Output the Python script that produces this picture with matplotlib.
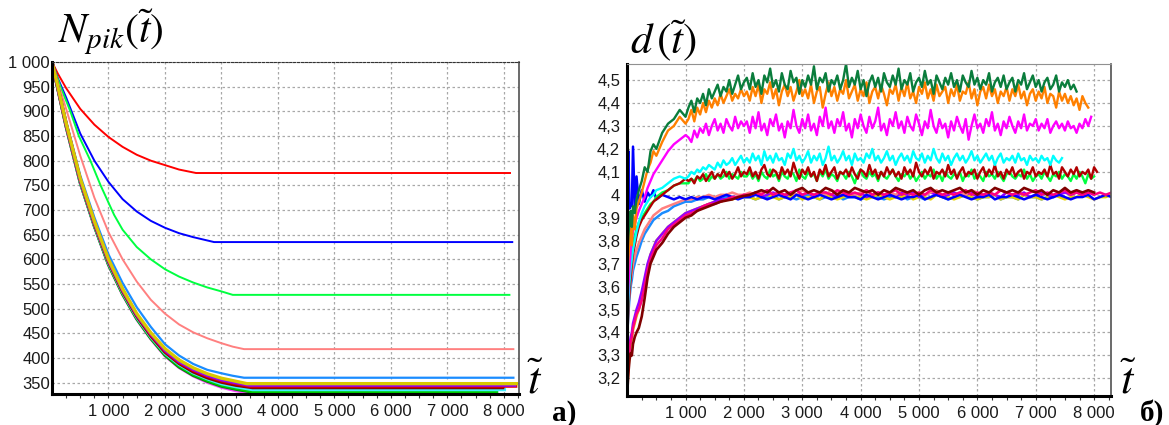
import numpy as np
import matplotlib
matplotlib.use("Agg")
import matplotlib.pyplot as plt

plt.rcParams['font.family'] = ['Liberation Sans', 'DejaVu Sans']
plt.rcParams['mathtext.fontset'] = 'stix'

# ---------------- panel a) : N_pik(t) ----------------
t_red = [0, 100, 250, 500, 750, 1000, 1250, 1500, 1750, 2000, 2250, 2550, 8110]
n_red = [1000, 977, 947, 905, 873, 848, 828, 812, 800, 791, 782, 775, 775]

t_blue = [0, 100, 250, 500, 750, 1000, 1250, 1500, 1750, 2000, 2250, 2500, 2870, 8150]
n_blue = [1000, 968, 928, 855, 800, 757, 722, 697, 678, 664, 653, 645, 635, 635]

t_green = [0, 150, 325, 475, 680, 860, 1100, 1250, 1500, 1750, 2000, 2250, 2500, 2750, 3000, 3200, 8100]
n_green = [1000, 950, 900, 850, 800, 750, 690, 660, 625, 600, 580, 565, 553, 543, 535, 528, 528]

t_pink = [0, 100, 250, 500, 750, 1000, 1250, 1500, 1750, 2000, 2250, 2500, 2750, 3000, 3200, 3400, 8170]
n_pink = [1000, 960, 905, 810, 725, 655, 600, 555, 518, 490, 468, 452, 440, 430, 423, 418, 418]

t_dodger = [0, 100, 250, 500, 750, 1000, 1250, 1500, 1750, 2000, 2250, 2500, 2750, 3000, 3200, 3400, 8170]
n_dodger = [1000, 952, 880, 770, 685, 610, 552, 503, 463, 428, 405, 388, 376, 369, 364, 360, 360]

t_c = [0, 100, 250, 500, 750, 1000, 1250, 1500, 1750, 2000, 2250, 2500, 2750, 3000, 3250]
n_yellow = [1000, 952, 876, 764, 677, 600, 540, 490, 451, 419, 396, 380, 368, 359, 353, 348, 348]
n_purple = [1000, 951, 875, 762, 675, 598, 538, 488, 449, 416, 393, 377, 365, 356, 350, 345, 345]
n_red2 = [1000, 950, 874, 761, 674, 597, 537, 487, 447, 414, 391, 375, 363, 354, 348, 343, 343]
n_dred = [1000, 950, 873, 760, 672, 595, 535, 485, 445, 412, 389, 372, 360, 351, 345, 340, 340]
n_cyan = [1000, 949, 872, 758, 670, 593, 533, 483, 443, 410, 387, 370, 358, 348, 342, 336, 336]
n_grn2 = [1000, 948, 871, 757, 669, 591, 531, 481, 441, 408, 384, 367, 355, 345, 339, 332, 332]
n_dgrn = [1000, 948, 870, 756, 668, 590, 530, 480, 440, 406, 382, 365, 353, 343, 337, 330, 330]
n_mag = [1000, 947, 869, 755, 667, 589, 529, 479, 439, 405, 381, 364, 351, 341, 334, 328, 328]
# plateau start / end for the cluster curves
c_tail = {'yellow': (3450, 8255), 'purple': (3500, 8220), 'red2': (3500, 8240),
          'dred': (3550, 8010), 'cyan': (3550, 8040), 'grn2': (3550, 7900),
          'dgrn': (3600, 7900), 'mag': (3600, 7600)}

a_yticks = [350, 400, 450, 500, 550, 600, 650, 700, 750, 800, 850, 900, 950, 1000]
a_ylabels = ['350', '400', '450', '500', '550', '600', '650', '700', '750', '800',
             '850', '900', '950', '1 000']
x_ticks = [1000, 2000, 3000, 4000, 5000, 6000, 7000, 8000]
x_labels = ['1 000', '2 000', '3 000', '4 000', '5 000', '6 000', '7 000', '8 000']

# ---------------- panel б) : d(t) ----------------
t_early = [0, 20, 40, 60, 80, 100, 130, 160, 200, 250, 300, 350, 400, 450, 500,
           600, 700, 800, 900, 1000]
t_d = np.concatenate([t_early, np.arange(1100, 8400, 100)])      # cluster runs
t_f = np.concatenate([t_early, np.arange(1050, 8400, 50)])       # upper noisy runs

d_dkgreen = [3.72, 3.82, 3.88, 3.93, 3.86, 3.95, 3.92, 3.98, 4.02, 4.06, 4.12, 4.10, 4.19, 4.22, 4.20, 4.27, 4.31, 4.33, 4.37, 4.34,
             4.38, 4.41, 4.36, 4.42, 4.40, 4.44, 4.39, 4.46, 4.42, 4.45, 4.48, 4.43, 4.47, 4.45, 4.50, 4.44, 4.48, 4.52, 4.46, 4.49,
             4.51, 4.46, 4.53, 4.47, 4.50, 4.44, 4.52, 4.49, 4.55, 4.47,
             4.50, 4.45, 4.53, 4.48, 4.46, 4.54, 4.49, 4.51, 4.44, 4.50,
             4.47, 4.52, 4.48, 4.56, 4.46, 4.51, 4.49, 4.53, 4.45, 4.50,
             4.48, 4.52, 4.46, 4.50, 4.57, 4.47, 4.51, 4.48, 4.54, 4.46,
             4.50, 4.43, 4.49, 4.52, 4.47, 4.51, 4.45, 4.53, 4.49, 4.47,
             4.52, 4.48, 4.55, 4.46, 4.50, 4.48, 4.53, 4.45, 4.49, 4.51,
             4.47, 4.54, 4.48, 4.50, 4.44, 4.52, 4.49, 4.46, 4.51, 4.48,
             4.53, 4.47, 4.50, 4.45, 4.52, 4.49, 4.47, 4.54, 4.48, 4.51,
             4.46, 4.50, 4.48, 4.53, 4.45, 4.49, 4.51, 4.47, 4.52, 4.46,
             4.49, 4.51, 4.45, 4.50, 4.48, 4.53, 4.46, 4.49, 4.52, 4.47,
             4.50, 4.45, 4.49, 4.51, 4.46, 4.48, 4.52, 4.45, 4.49, 4.47,
             4.50, 4.46, 4.48, 4.45]
d_orange = [3.58, 3.72, 3.80, 3.87, 3.78, 3.91, 3.85, 3.94, 3.97, 4.01, 4.06, 4.11, 4.14, 4.19, 4.17, 4.23, 4.28, 4.30, 4.34, 4.31,
            4.33, 4.37, 4.32, 4.38, 4.35, 4.40, 4.36, 4.41, 4.38, 4.42, 4.39, 4.44, 4.40, 4.43, 4.46, 4.41, 4.44, 4.42, 4.46, 4.43,
            4.45, 4.41, 4.47, 4.43, 4.48, 4.40, 4.46, 4.44, 4.49, 4.42,
            4.46, 4.39, 4.45, 4.48, 4.43, 4.47, 4.41, 4.45, 4.50, 4.43,
            4.46, 4.42, 4.48, 4.40, 4.45, 4.47, 4.38, 4.44, 4.49, 4.43,
            4.47, 4.41, 4.46, 4.44, 4.50, 4.42, 4.45, 4.48, 4.41, 4.46,
            4.43, 4.49, 4.40, 4.45, 4.47, 4.42, 4.48, 4.44, 4.39, 4.46,
            4.44, 4.48, 4.41, 4.47, 4.43, 4.49, 4.42, 4.45, 4.40, 4.47,
            4.44, 4.49, 4.42, 4.46, 4.41, 4.48, 4.43, 4.45, 4.47, 4.40,
            4.46, 4.43, 4.48, 4.41, 4.45, 4.44, 4.49, 4.42, 4.46, 4.39,
            4.45, 4.47, 4.42, 4.48, 4.43, 4.46, 4.40, 4.45, 4.43, 4.47,
            4.41, 4.46, 4.43, 4.48, 4.42, 4.45, 4.39, 4.44, 4.46, 4.41,
            4.45, 4.42, 4.47, 4.40, 4.44, 4.43, 4.38, 4.45, 4.41, 4.44,
            4.40, 4.43, 4.39, 4.42, 4.37, 4.43, 4.40, 4.38]
d_magenta = [3.45, 3.60, 3.68, 3.76, 3.80, 3.84, 3.87, 3.90, 3.93, 3.96, 3.99, 4.03, 4.06, 4.09, 4.11, 4.15, 4.19, 4.22, 4.24, 4.26,
             4.25, 4.23, 4.28, 4.25, 4.29, 4.27, 4.31, 4.26, 4.30, 4.33, 4.28, 4.31, 4.27, 4.33, 4.30, 4.28, 4.34, 4.29, 4.32, 4.30,
             4.32, 4.27, 4.34, 4.29, 4.36, 4.28, 4.31, 4.26, 4.33, 4.30,
             4.35, 4.28, 4.31, 4.25, 4.32, 4.29, 4.37, 4.30, 4.27, 4.33,
             4.29, 4.35, 4.28, 4.31, 4.26, 4.34, 4.30, 4.38, 4.29, 4.32,
             4.27, 4.33, 4.30, 4.36, 4.28, 4.31, 4.25, 4.33, 4.29, 4.35,
             4.30, 4.27, 4.34, 4.29, 4.32, 4.38, 4.28, 4.31, 4.26, 4.33,
             4.30, 4.36, 4.29, 4.32, 4.27, 4.34, 4.30, 4.28, 4.35, 4.31,
             4.26, 4.32, 4.29, 4.37, 4.30, 4.27, 4.33, 4.29, 4.31, 4.25,
             4.32, 4.28, 4.34, 4.30, 4.27, 4.33, 4.24, 4.30, 4.35, 4.29,
             4.31, 4.27, 4.33, 4.30, 4.36, 4.28, 4.31, 4.26, 4.32, 4.29,
             4.34, 4.30, 4.27, 4.32, 4.29, 4.35, 4.28, 4.31, 4.30, 4.33,
             4.28, 4.31, 4.29, 4.33, 4.27, 4.30, 4.32, 4.29, 4.31, 4.28,
             4.32, 4.29, 4.30, 4.27, 4.31, 4.29, 4.33, 4.30, 4.34]
d_cyan = [3.40, 3.54, 3.62, 3.68, 3.72, 3.76, 3.80, 3.84, 3.88, 3.92, 3.95, 3.97, 3.99, 4.00, 4.02, 4.03, 4.05, 4.07, 4.08, 4.07,
          4.08, 4.10, 4.09, 4.11, 4.10, 4.12, 4.11, 4.13, 4.12, 4.11, 4.14, 4.12, 4.15, 4.13, 4.14, 4.16, 4.13, 4.15, 4.17, 4.14,
          4.16, 4.14, 4.18, 4.15, 4.17, 4.13, 4.19, 4.15, 4.17, 4.14,
          4.18, 4.15, 4.16, 4.13, 4.18, 4.16, 4.20, 4.15, 4.17, 4.14,
          4.16, 4.19, 4.14, 4.17, 4.15, 4.18, 4.13, 4.16, 4.21, 4.15,
          4.17, 4.14, 4.16, 4.19, 4.15, 4.17, 4.13, 4.18, 4.15, 4.16,
          4.14, 4.18, 4.16, 4.20, 4.15, 4.17, 4.14, 4.16, 4.19, 4.15,
          4.17, 4.13, 4.16, 4.18, 4.15, 4.17, 4.14, 4.19, 4.16, 4.15,
          4.18, 4.14, 4.17, 4.15, 4.20, 4.16, 4.14, 4.18, 4.15, 4.17,
          4.13, 4.16, 4.18, 4.15, 4.17, 4.14, 4.16, 4.19, 4.15, 4.17,
          4.14, 4.16, 4.18, 4.15, 4.17, 4.13, 4.16, 4.18, 4.14, 4.16,
          4.15, 4.17, 4.14, 4.18, 4.15, 4.16, 4.13, 4.17, 4.15, 4.16,
          4.14, 4.17, 4.15, 4.16, 4.13, 4.17, 4.15, 4.14, 4.16]
d_darkred = [3.35, 3.50, 3.58, 3.64, 3.70, 3.74, 3.78, 3.82, 3.86, 3.89, 3.91, 3.93, 3.95, 3.97, 3.98, 4.00, 4.02, 4.04, 4.05, 4.07,
             4.06, 4.07, 4.05, 4.08, 4.07, 4.09, 4.06, 4.08, 4.10, 4.07, 4.09, 4.08, 4.11, 4.08, 4.10, 4.07, 4.09, 4.12, 4.08, 4.10,
             4.09, 4.12, 4.08, 4.10, 4.07, 4.11, 4.13, 4.09, 4.08, 4.11,
             4.10, 4.07, 4.12, 4.09, 4.11, 4.08, 4.14, 4.10, 4.07, 4.11,
             4.09, 4.12, 4.08, 4.10, 4.06, 4.11, 4.09, 4.13, 4.08, 4.10,
             4.12, 4.07, 4.10, 4.09, 4.11, 4.08, 4.12, 4.09, 4.07, 4.11,
             4.10, 4.08, 4.13, 4.09, 4.11, 4.07, 4.10, 4.08, 4.12, 4.09,
             4.11, 4.08, 4.10, 4.07, 4.12, 4.09, 4.11, 4.08, 4.14, 4.10,
             4.08, 4.11, 4.09, 4.12, 4.07, 4.10, 4.09, 4.11, 4.08, 4.13,
             4.09, 4.11, 4.07, 4.10, 4.12, 4.08, 4.10, 4.09, 4.11, 4.07,
             4.10, 4.12, 4.08, 4.11, 4.09, 4.13, 4.08, 4.10, 4.07, 4.11,
             4.09, 4.12, 4.08, 4.10, 4.11, 4.07, 4.10, 4.09, 4.12, 4.08,
             4.10, 4.09, 4.11, 4.08, 4.13, 4.09, 4.10, 4.07, 4.12, 4.10,
             4.08, 4.11, 4.09, 4.12, 4.08, 4.10, 4.09, 4.11, 4.07, 4.12,
             4.10]
d_green = [3.50, 3.62, 3.69, 3.74, 3.77, 3.80, 3.82, 3.85, 3.88, 3.90, 3.92, 3.94, 3.96, 3.97, 3.99, 4.01, 4.02, 4.04, 4.05, 4.05,
           4.05, 4.07, 4.06, 4.08, 4.06, 4.07, 4.09, 4.06, 4.08, 4.07, 4.09, 4.07, 4.08, 4.10, 4.07, 4.09, 4.08, 4.07, 4.10, 4.08,
           4.08, 4.10, 4.07, 4.09, 4.06, 4.10, 4.08, 4.07, 4.11, 4.08,
           4.09, 4.06, 4.10, 4.08, 4.07, 4.10, 4.09, 4.06, 4.11, 4.08,
           4.07, 4.10, 4.08, 4.09, 4.06, 4.10, 4.08, 4.11, 4.07, 4.09,
           4.08, 4.06, 4.10, 4.09, 4.07, 4.10, 4.08, 4.05, 4.09, 4.11,
           4.08, 4.07, 4.10, 4.08, 4.09, 4.06, 4.10, 4.08, 4.07, 4.09,
           4.11, 4.08, 4.06, 4.09, 4.08, 4.10, 4.07, 4.09, 4.06, 4.08,
           4.10, 4.07, 4.09, 4.08, 4.11, 4.07, 4.09, 4.06, 4.10, 4.08,
           4.07, 4.09, 4.08, 4.10, 4.06, 4.09, 4.08, 4.11, 4.07, 4.09,
           4.08, 4.06, 4.10, 4.08, 4.09, 4.07, 4.10, 4.08, 4.06, 4.09,
           4.10, 4.08, 4.07, 4.09, 4.08, 4.11, 4.07, 4.09, 4.06, 4.08,
           4.09, 4.07, 4.10, 4.08, 4.06, 4.09, 4.08, 4.10, 4.07, 4.09,
           4.08, 4.06, 4.09, 4.07, 4.10, 4.08, 4.05, 4.09, 4.07, 4.08]
d_maroon = [3.13, 3.22, 3.28, 3.31, 3.30, 3.35, 3.38, 3.40, 3.42, 3.47, 3.55, 3.64, 3.70, 3.73, 3.76, 3.79, 3.83, 3.86, 3.88, 3.90,
            3.91, 3.93, 3.94, 3.95, 3.96, 3.97, 3.975, 3.98, 3.99, 3.995,
            4.00, 4.01, 4.02, 4.01, 4.03, 4.01, 4.02, 4.00, 4.02, 4.03,
            4.01, 4.02, 4.01, 4.03, 4.02, 4.00, 4.02, 4.01, 4.03, 4.02,
            4.01, 4.02, 4.00, 4.02, 4.01, 4.03, 4.02, 4.01, 4.02, 4.00,
            4.02, 4.03, 4.01, 4.02, 4.01, 4.02, 4.03, 4.01, 4.02, 4.00,
            4.02, 4.01, 4.03, 4.02, 4.01, 4.02, 4.01, 4.03, 4.02, 4.01,
            4.02, 4.00, 4.02, 4.01, 4.03, 4.01, 4.02, 4.01, 4.02, 4.01]
d_pink = [3.15, 3.25, 3.32, 3.36, 3.38, 3.42, 3.45, 3.48, 3.50, 3.54, 3.60, 3.67, 3.72, 3.75, 3.78, 3.81, 3.85, 3.87, 3.89, 3.91,
          3.92, 3.93, 3.95, 3.96, 3.96, 3.97, 3.98, 3.99, 3.99, 4.00,
          4.00, 4.01, 4.00, 4.02, 4.00, 4.01, 4.00, 4.01, 4.02, 4.00,
          4.01, 4.00, 4.01, 4.01, 4.00, 4.02, 4.01, 4.00, 4.01, 4.00,
          4.02, 4.00, 4.01, 4.00, 4.01, 4.02, 4.00, 4.01, 4.00, 4.01,
          4.00, 4.02, 4.01, 4.00, 4.01, 4.00, 4.01, 4.02, 4.00, 4.01,
          4.00, 4.01, 4.00, 4.02, 4.01, 4.00, 4.01, 4.00, 4.01, 4.02,
          4.00, 4.01, 4.00, 4.01, 4.02, 4.00, 4.01, 4.00, 4.01, 4.00,
          4.01, 4.00, 4.01]
d_blue = [3.93, 4.19, 3.94, 3.96, 3.95, 4.21, 3.95, 4.08, 3.96, 4.02, 3.97, 4.01, 3.99, 4.02, 3.98, 4.00, 3.99, 3.98, 3.99, 3.98,
          3.99, 3.98, 3.99, 3.99, 3.98, 3.99, 4.00, 3.99, 3.98, 3.99,
          3.99, 4.00, 3.99, 3.98, 3.99, 4.00, 3.99, 3.98, 4.00, 3.99,
          3.98, 3.99, 4.00, 3.99, 3.98, 3.99, 4.00, 3.99, 3.99, 3.98,
          4.00, 3.99, 3.98, 3.99, 4.00, 3.99, 3.98, 3.99, 3.99, 4.00,
          3.98, 3.99, 4.00, 3.99, 3.98, 3.99, 4.00, 3.99, 3.98, 3.99,
          3.99, 4.00, 3.98, 3.99, 3.99, 4.00, 3.99, 3.98, 3.99, 4.00,
          3.99, 3.98, 3.99, 4.00, 3.99, 3.98, 3.99, 3.99, 4.00, 3.98,
          3.99, 4.00, 3.99]
d_yellow = [3.14, 3.24, 3.30, 3.35, 3.37, 3.41, 3.44, 3.47, 3.50, 3.55, 3.62, 3.69, 3.74, 3.77, 3.80, 3.83, 3.86, 3.88, 3.90, 3.92,
            3.93, 3.94, 3.95, 3.96, 3.97, 3.97, 3.98, 3.98, 3.99, 3.99,
            3.99, 3.98, 3.99, 4.00, 3.99, 3.98, 3.99, 3.99, 4.00, 3.98,
            3.99, 3.99, 3.98, 4.00, 3.99, 3.98, 3.99, 4.00, 3.99, 3.99,
            3.98, 3.99, 4.00, 3.99, 3.98, 3.99, 3.99, 4.00, 3.98, 3.99,
            3.99, 3.98, 4.00, 3.99, 3.99, 3.98, 3.99, 4.00, 3.99, 3.98,
            3.99, 3.99, 4.00, 3.98, 3.99, 3.99, 3.98, 4.00, 3.99, 3.99,
            3.98, 3.99, 4.00, 3.99, 3.98, 3.99, 3.99, 4.00, 3.99, 3.98,
            3.99, 3.99, 4.00]
d_purple = [3.18, 3.28, 3.34, 3.38, 3.40, 3.44, 3.47, 3.50, 3.53, 3.58, 3.64, 3.70, 3.74, 3.77, 3.80, 3.83, 3.86, 3.88, 3.90, 3.92,
            3.93, 3.94, 3.95, 3.96, 3.97, 3.98, 3.98, 3.99, 3.99, 4.00,
            4.00, 4.01, 3.99, 4.00, 4.01, 4.00, 3.99, 4.01, 4.00, 4.00,
            4.01, 3.99, 4.00, 4.01, 4.00, 3.99, 4.00, 4.01, 4.00, 4.01,
            3.99, 4.00, 4.01, 4.00, 4.00, 3.99, 4.01, 4.00, 4.01, 3.99,
            4.00, 4.01, 4.00, 3.99, 4.00, 4.01, 4.00, 4.00, 4.01, 3.99,
            4.00, 4.01, 4.00, 3.99, 4.01, 4.00, 4.00, 4.01, 3.99, 4.00,
            4.01, 4.00, 3.99, 4.00, 4.01, 4.00, 4.01, 4.00]
d_dodger = [3.38, 3.48, 3.55, 3.60, 3.63, 3.67, 3.70, 3.73, 3.76, 3.80, 3.83, 3.85, 3.87, 3.89, 3.90, 3.92, 3.93, 3.95, 3.96, 3.97,
            3.97, 3.98, 3.98, 3.99, 3.99, 3.98, 3.99, 3.99, 3.99, 3.99,
            3.99, 3.98, 3.99, 3.99, 4.00, 3.98, 3.99, 3.99, 3.98, 3.99,
            4.00, 3.99, 3.98, 3.99, 3.99, 4.00, 3.98, 3.99, 3.99, 3.98,
            3.99, 4.00, 3.99, 3.98, 3.99, 3.99, 4.00, 3.98, 3.99, 3.99,
            3.98, 3.99, 4.00, 3.99, 3.98, 3.99, 3.99, 4.00, 3.99, 3.98,
            3.99, 3.99, 4.00, 3.98, 3.99, 3.99, 3.98, 4.00, 3.99, 3.99,
            3.98, 3.99, 3.99]
d_salmon = [3.42, 3.52, 3.58, 3.63, 3.66, 3.70, 3.73, 3.76, 3.79, 3.82, 3.85, 3.87, 3.89, 3.91, 3.92, 3.94, 3.95, 3.96, 3.97, 3.98,
            3.98, 3.99, 3.99, 4.00, 3.99, 4.00, 4.00, 4.01, 4.00, 4.00,
            4.01, 4.00, 4.01, 4.02, 4.00, 4.01, 4.00, 4.01, 4.00, 4.02,
            4.01, 4.00, 4.01, 4.00, 4.02, 4.01, 4.00, 4.01, 4.00, 4.01,
            4.02, 4.00, 4.01, 4.00, 4.01, 4.00, 4.02, 4.01, 4.00, 4.01,
            4.00, 4.01, 4.02, 4.00, 4.01, 4.00, 4.01, 4.00, 4.02, 4.01,
            4.00, 4.01, 4.00, 4.02, 4.01, 4.00, 4.01, 4.00]

b_yticks = [3.2, 3.3, 3.4, 3.5, 3.6, 3.7, 3.8, 3.9, 4.0, 4.1, 4.2, 4.3, 4.4, 4.5]
b_ylabels = ['3,2', '3,3', '3,4', '3,5', '3,6', '3,7', '3,8', '3,9', '4', '4,1',
             '4,2', '4,3', '4,4', '4,5']

fig = plt.figure(figsize=(11.69, 4.25), dpi=100)
ax1 = fig.add_axes([0.0445, 0.0729, 0.3995, 0.7812])
ax2 = fig.add_axes([0.5365, 0.0682, 0.4139, 0.7812])


def style(ax, pad_y):
    ax.grid(True, which='major', color='#a8a8a8', linestyle=(0, (2, 2)), linewidth=0.9)
    ax.set_axisbelow(True)
    ax.set_xticks(x_ticks)
    ax.set_xticklabels(x_labels)
    ax.set_xticks(np.arange(250, 8300, 250), minor=True)
    ax.tick_params(axis='x', which='both', direction='out', length=3, width=0.8,
                   color='#333333', labelsize=12, pad=4, labelcolor='#1a1a1a')
    ax.tick_params(axis='y', length=0, labelsize=12, pad=pad_y, labelcolor='#1a1a1a')
    ax.spines['left'].set_linewidth(2.2)
    ax.spines['left'].set_color('black')
    ax.spines['bottom'].set_linewidth(2.2)
    ax.spines['bottom'].set_color('black')
    ax.spines['right'].set_color('#505050')
    ax.spines['right'].set_linewidth(1.2)


# ---- panel a
ax1.plot(t_red, n_red, color='#ff0000', lw=1.4)
ax1.plot(t_blue, n_blue, color='#0000ff', lw=1.4)
ax1.plot(t_green, n_green, color='#00ff40', lw=1.4)
ax1.plot(t_pink, n_pink, color='#ff8080', lw=1.4)
ax1.plot(t_dodger, n_dodger, color='#1a8cff', lw=1.6)
cluster = [('mag', n_mag, '#ff40ff'), ('dgrn', n_dgrn, '#008a00'), ('grn2', n_grn2, '#00cc00'),
           ('cyan', n_cyan, '#40f0ff'), ('dred', n_dred, '#8b0000'), ('red2', n_red2, '#e00000'),
           ('purple', n_purple, '#9000ff'), ('yellow', n_yellow, '#d8c800')]
for key, vals, col in cluster:
    ts, te = c_tail[key]
    ax1.plot(t_c + [ts, te], vals, color=col, lw=2.4, solid_capstyle='butt')

style(ax1, 1.5)
ax1.set_xlim(0, 8270)
ax1.set_ylim(327, 1000)
ax1.set_yticks(a_yticks)
ax1.set_yticklabels(a_ylabels)
ax1.spines['top'].set_linestyle((0, (2, 1.5)))
ax1.spines['top'].set_color('#333333')

# ---- panel б
cluster_b = [(d_dodger, '#1a8cff'), (d_yellow, '#e6d200'), (d_purple, '#9400ff'),
             (d_salmon, '#ff8080'), (d_blue, '#0000ff'), (d_pink, '#ff0080')]
for vals, col in cluster_b:
    ax2.plot(t_d[:len(vals)], vals, color=col, lw=1.8)
upper_b = [(d_green, '#00ff40'), (d_darkred, '#b00000'), (d_cyan, '#00ffff'),
           (d_magenta, '#ff00ff'), (d_orange, '#ff8000'), (d_dkgreen, '#0a7d3c')]
for vals, col in upper_b:
    ax2.plot(t_f[:len(vals)], vals, color=col, lw=1.7)
ax2.plot(t_d[:len(d_maroon)], d_maroon, color='#800000', lw=1.9)

style(ax2, 5)
ax2.set_xlim(0, 8290)
ax2.set_ylim(3.123, 4.57)
ax2.set_yticks(b_yticks)
ax2.set_yticklabels(b_ylabels)
ax2.spines['top'].set_color('#909090')

# ---- texts
fig.text(0.0496, 0.898, r'$N_{pik}(\tilde{t})$', fontsize=30, va='baseline', ha='left')
fig.text(0.539, 0.872, r'$d\,(\tilde{t})$', fontsize=31, va='baseline', ha='left')
fig.text(0.451, 0.075, r'$\tilde{t}$', fontsize=32, va='baseline', ha='left')
fig.text(0.958, 0.075, r'$\tilde{t}$', fontsize=32, va='baseline', ha='left')
fig.text(0.472, 0.01, 'а)', fontsize=21, fontweight='bold', va='baseline', ha='left',
         family=['Liberation Serif', 'DejaVu Serif'])
fig.text(0.9755, 0.01, 'б)', fontsize=21, fontweight='bold', va='baseline', ha='left',
         family=['Liberation Serif', 'DejaVu Serif'])

fig.savefig('out.png', dpi=100)
